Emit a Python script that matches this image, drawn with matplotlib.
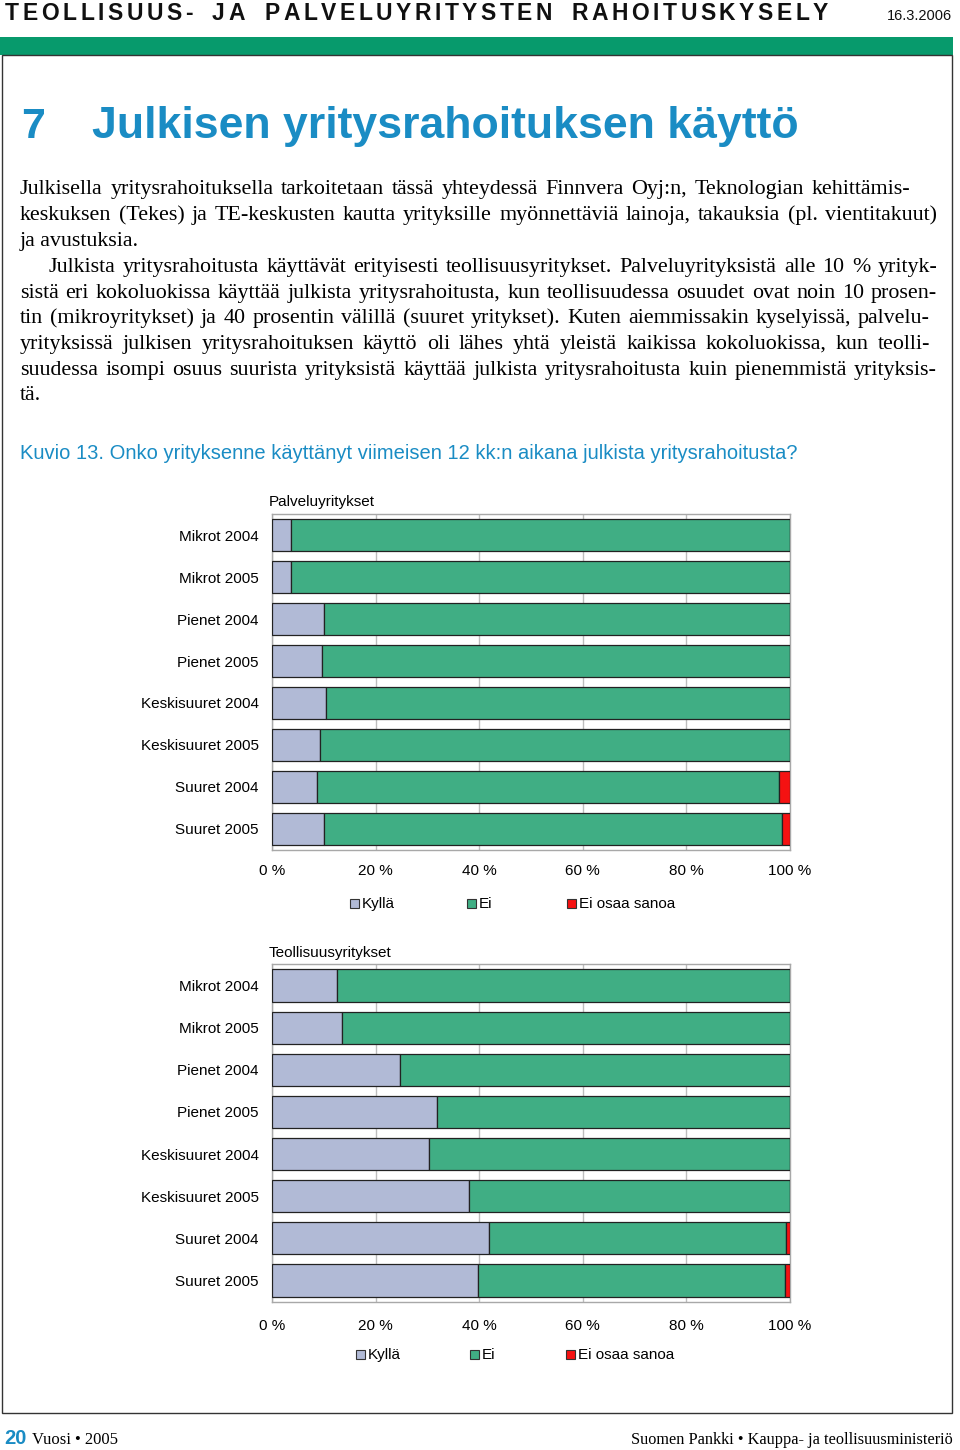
import matplotlib
matplotlib.use("Agg")
import matplotlib.pyplot as plt
from matplotlib.patches import Rectangle
import numpy as np

# ---------------- data ----------------
categories = ["Mikrot 2004", "Mikrot 2005", "Pienet 2004", "Pienet 2005",
              "Keskisuuret 2004", "Keskisuuret 2005", "Suuret 2004", "Suuret 2005"]
series_names = ["Kyllä", "Ei", "Ei osaa sanoa"]
palvelu_kylla = [3.6, 3.6, 10.1, 9.6, 10.4, 9.2, 8.6, 10.1]
palvelu_ei = [96.4, 96.4, 89.9, 90.4, 89.6, 90.8, 89.3, 88.4]
palvelu_eos = [0.0, 0.0, 0.0, 0.0, 0.0, 0.0, 2.1, 1.5]
teoll_kylla = [12.5, 13.5, 24.7, 31.9, 30.4, 38.1, 41.9, 39.8]
teoll_ei = [87.5, 86.5, 75.3, 68.1, 69.6, 61.9, 57.3, 59.2]
teoll_eos = [0.0, 0.0, 0.0, 0.0, 0.0, 0.0, 0.8, 1.0]
x_ticks = [0, 20, 40, 60, 80, 100]
x_tick_labels = ["0 %", "20 %", "40 %", "60 %", "80 %", "100 %"]

COL_KYLLA = "#b1bad6"
COL_EI = "#40ae84"
COL_EOS = "#f51212"
BLUE = "#1a8cc4"
GREEN = "#079a6c"
SANS = ["Liberation Sans", "DejaVu Sans"]
SERIF = ["Liberation Serif", "DejaVu Serif"]

W, H = 960, 1450
fig = plt.figure(figsize=(W / 100, H / 100), dpi=100)
renderer = fig.canvas.get_renderer()


def fx(x):
    return x / W


def fy(y):
    return 1 - y / H


def width_px(t):
    return t.get_window_extent(renderer).width


def fit_text(x0, x1, y, s, size, va="baseline", **kw):
    t = fig.text(fx(x0), fy(y), s, fontsize=size, va=va, ha="left", **kw)
    w = width_px(t)
    t.set_fontsize(size * (x1 - x0) / w)
    return t


def justify(line, x0, x1, y, size, family):
    words = line.split(" ")
    ts = [fig.text(0, fy(y), w, fontsize=size, family=family, va="baseline", ha="left")
          for w in words]
    ws = [width_px(t) for t in ts]
    gap = (x1 - x0 - sum(ws)) / max(len(words) - 1, 1)
    x = x0
    for t, w in zip(ts, ws):
        t.set_x(fx(x))
        x += w + gap


def spaced(s, x0, x1, y, size, **kw):
    ts = [fig.text(0, fy(y), c, fontsize=size, va="baseline", ha="left", **kw) for c in s]
    sp = fig.text(0, 0, "n", fontsize=size, **kw)
    spw = width_px(sp) * 0.9
    sp.remove()
    ws = [width_px(t) if c != " " else spw for t, c in zip(ts, s)]
    gap = (x1 - x0 - sum(ws)) / (len(s) - 1)
    x = x0
    for t, w in zip(ts, ws):
        t.set_x(fx(x))
        x += w + gap


# ---------------- page decoration ----------------
spaced("TEOLLISUUS- JA PALVELUYRITYSTEN RAHOITUSKYSELY", 5, 828, 20, 16.5,
       family=SANS, fontweight="bold", color="#111111")
fig.text(fx(952), fy(20), "16.3.2006", fontsize=10.5, family=SANS, ha="right",
         va="baseline", color="#111111")
fig.patches.append(Rectangle((0, fy(55)), fx(953), (55 - 37) / H, transform=fig.transFigure,
                             facecolor=GREEN, edgecolor="none"))
fig.patches.append(Rectangle((fx(2), fy(1413)), fx(950), (1413 - 55) / H,
                             transform=fig.transFigure, facecolor="none",
                             edgecolor="#333333", linewidth=1.0))

fig.text(fx(21), fy(138), "7", fontsize=31, family=SANS, fontweight="bold",
         color=BLUE, va="baseline", ha="left")
fit_text(92, 800, 138, "Julkisen yritysrahoituksen käyttö", 30, family=SANS,
         fontweight="bold", color=BLUE)

body = [
    ("Julkisella yritysrahoituksella tarkoitetaan tässä yhteydessä Finnvera Oyj:n, Teknologian kehittämis-", 20, 910, 194, True),
    ("keskuksen (Tekes) ja TE-keskusten kautta yrityksille myönnettäviä lainoja, takauksia (pl. vientitakuut)", 20, 937, 220, True),
    ("ja avustuksia.", 20, None, 246, False),
    ("Julkista yritysrahoitusta käyttävät erityisesti teollisuusyritykset. Palveluyrityksistä alle 10 % yrityk-", 49, 937, 272, True),
    ("sistä eri kokoluokissa käyttää julkista yritysrahoitusta, kun teollisuudessa osuudet ovat noin 10 prosen-", 20, 937, 298, True),
    ("tin (mikroyritykset) ja 40 prosentin välillä (suuret yritykset). Kuten aiemmissakin kyselyissä, palvelu-", 20, 930, 323, True),
    ("yrityksissä julkisen yritysrahoituksen käyttö oli lähes yhtä yleistä kaikissa kokoluokissa, kun teolli-", 20, 930, 349, True),
    ("suudessa isompi osuus suurista yrityksistä käyttää julkista yritysrahoitusta kuin pienemmistä yrityksis-", 20, 937, 375, True),
    ("tä.", 20, None, 400, False),
]
# one body font size so that the tightest justified line fits with near-normal spacing
ratios = []
for line, x0, x1, y, just in body:
    if just:
        t = fig.text(0, 0, line, fontsize=14, family=SERIF)
        ratios.append((x1 - x0) / width_px(t))
        t.remove()
body_size = 14 * min(ratios) * 0.995

for line, x0, x1, y, just in body:
    if just:
        justify(line, x0, x1, y, body_size, SERIF)
    else:
        fig.text(fx(x0), fy(y), line, fontsize=body_size, family=SERIF,
                 va="baseline", ha="left")

fit_text(20, 802, 459, "Kuvio 13. Onko yrityksenne käyttänyt viimeisen 12 kk:n aikana julkista yritysrahoitusta?",
         14, family=SANS, color=BLUE)

# footer
fig.text(fx(4), fy(1444), "20", fontsize=14.5, family=SANS, fontweight="bold",
         color=BLUE, va="baseline", ha="left")
fit_text(32, 118, 1444, "Vuosi • 2005", 12, family=SERIF)
fit_text(631, 952, 1444, "Suomen Pankki • Kauppa- ja teollisuusministeriö", 12, family=SERIF)


# ---------------- charts ----------------
def chart(top, bottom, title, title_y, kylla, ei, eos, tick_y, legend_y, legend_x):
    ax = fig.add_axes([fx(272), fy(bottom), (790 - 272) / W, (bottom - top) / H])
    y = np.arange(len(categories))
    kw = dict(height=0.76, edgecolor="#222222", linewidth=0.9, zorder=3)
    ax.barh(y, kylla, color=COL_KYLLA, **kw)
    ax.barh(y, ei, left=kylla, color=COL_EI, **kw)
    ax.barh(y, eos, left=np.array(kylla) + np.array(ei), color=COL_EOS, **kw)
    ax.set_xlim(0, 100)
    ax.set_ylim(len(categories) - 0.49, -0.51)
    ax.set_yticks(y)
    ax.set_yticklabels(categories, fontsize=11, family=SANS)
    ax.set_xticks(x_ticks)
    ax.set_xticklabels(x_tick_labels, fontsize=11, family=SANS)
    ax.tick_params(axis="both", length=0)
    ax.tick_params(axis="y", pad=9.5)
    ax.tick_params(axis="x", pad=(tick_y - bottom - 6) * 0.72)
    ax.xaxis.grid(True, color="#bdbdbd", linewidth=1.0, zorder=0)
    ax.set_axisbelow(True)
    for s in ax.spines.values():
        s.set_color("#a8a8a8")
        s.set_linewidth(1.0)
    fig.text(fx(269), fy(title_y + 1), title, fontsize=11, family=SANS, va="center", ha="left")
    cols = [COL_KYLLA, COL_EI, COL_EOS]
    for name, col, lx in zip(series_names, cols, legend_x):
        fig.patches.append(Rectangle((fx(lx), fy(legend_y + 5)), 9 / W, 9 / H,
                                     transform=fig.transFigure, facecolor=col,
                                     edgecolor="#333333", linewidth=0.8))
        fig.text(fx(lx + 12), fy(legend_y + 1), name, fontsize=11, family=SANS,
                 va="center", ha="left")
    return ax


chart(514, 850, "Palveluyritykset", 501, palvelu_kylla, palvelu_ei, palvelu_eos,
      870, 903, [350, 467, 567])
chart(964, 1302, "Teollisuusyritykset", 952, teoll_kylla, teoll_ei, teoll_eos,
      1325, 1354, [356, 470, 566])

fig.savefig("out.png", dpi=100, facecolor="white")
